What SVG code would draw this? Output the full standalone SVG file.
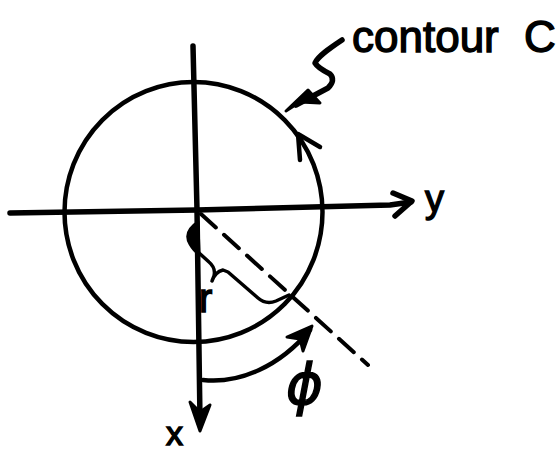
<svg xmlns="http://www.w3.org/2000/svg" width="559" height="454" viewBox="0 0 559 454">
<style>
.ln{fill:none;stroke:#000;stroke-linecap:round;stroke-linejoin:round}
.ax{stroke-width:5.5}
.th{stroke-width:4.5}
.fl{fill:#000;stroke:#000;stroke-width:3;stroke-linejoin:round}
.tx{font-family:"Liberation Sans",Arial,sans-serif;fill:#000;stroke:#000;stroke-width:1.4}
</style>
<rect width="559" height="454" fill="#fff"/>
<g id="circle-contour">
<ellipse class="ln th" cx="193.5" cy="212" rx="129" ry="130"/>
<path class="ln th" d="M300,160 L298,134 L320,147"/>
</g>
<g id="axes">
<path class="ln ax" d="M10,213 L197,210 L390,205 L411,202"/>
<path class="ln ax" d="M393,193 L412,201 L395,216"/>
<path class="ln ax" d="M193,46 L197,210 L200,420"/>
<path class="fl" d="M190,402 L200,431 L210,405 L200,412 Z"/>
</g>
<g id="connectors">
<path class="ln" stroke-width="4" stroke-dasharray="20 11" d="M201,214 L368,365"/>
<path class="ln" stroke-width="3.5" d="M198,252 L209,262 Q216,268 214,276 L212,281 Q215,272 223,270 L228,272 L258,298 Q266,305 276,301 L289,295"/>
<path class="fl" d="M198,222 Q183,232 190,244 Q194,251 199,254 Z"/>
<path class="ln th" d="M203,380 C240,384 280,366 310,330"/>
<path class="fl" d="M287,337 L312,326 L303,351 L300,339 Z"/>
<path class="ln" stroke-width="5.5" d="M342,40 C330,48 318,56 315,63 Q318,68 330,74 Q336,80 328,88 L296,105"/>
<path class="fl" d="M286,111 L308,90 L320,103 L300,102 Z"/>
</g>
<g id="labels">
<text class="tx" x="352" y="52" font-size="44">contour <tspan x="524">C</tspan></text>
<text class="tx" x="425" y="212" font-size="38">y</text>
<text class="tx" x="166" y="445" font-size="34">x</text>
<text class="tx" x="199" y="312" font-size="40">r</text>
<text class="tx" x="286" y="404" font-size="56" font-style="italic" style="font-family:'DejaVu Sans',sans-serif">ϕ</text>
</g>
</svg>
